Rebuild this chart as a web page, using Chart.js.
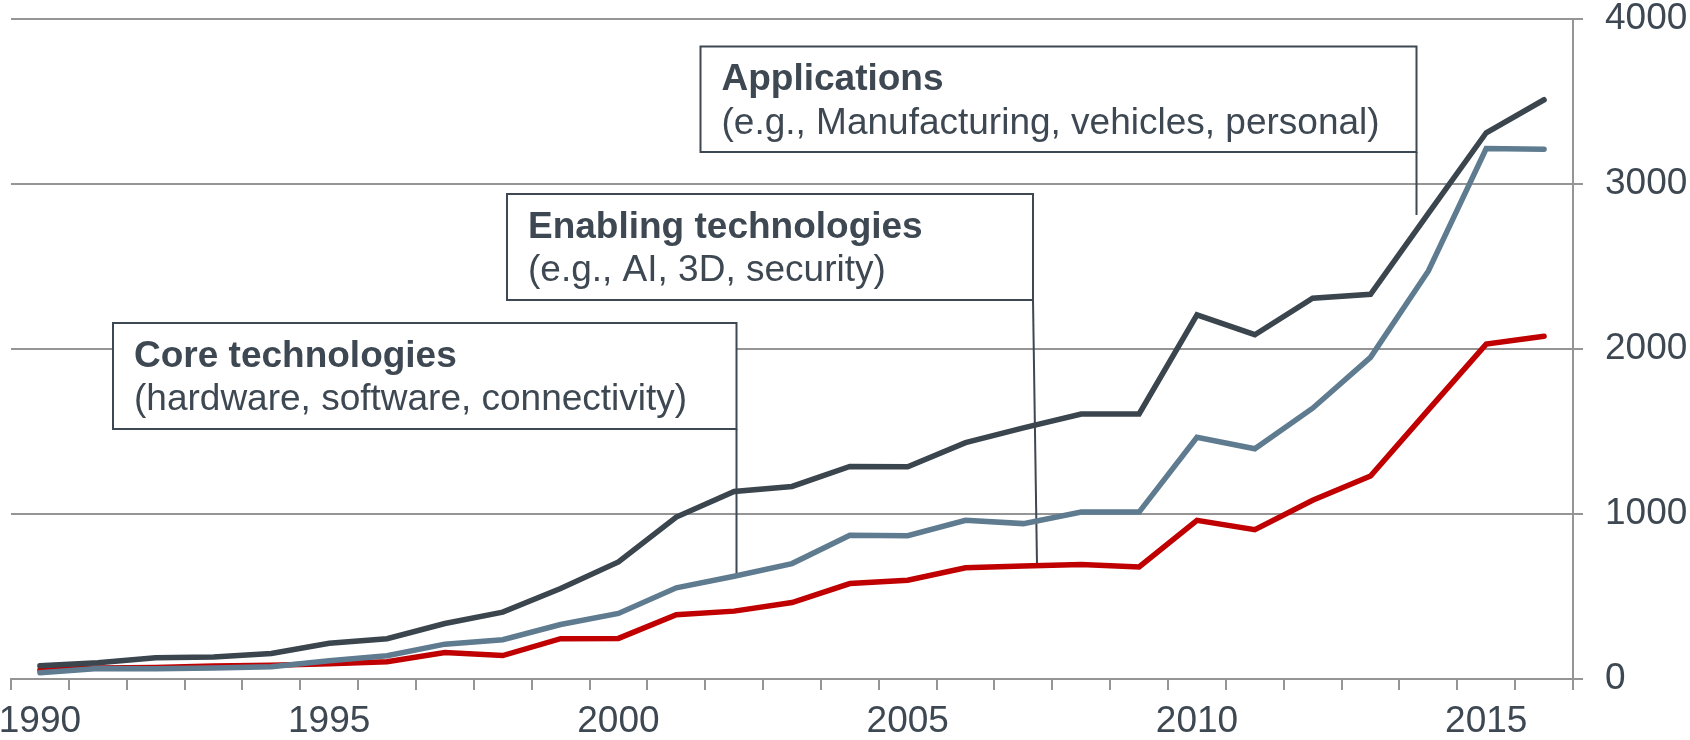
<!DOCTYPE html>
<html>
<head>
<meta charset="utf-8">
<script src="https://cdn.jsdelivr.net/npm/chart.js@4"></script>
<style>
  body { margin: 0; background: #fff; }
  canvas { display: block; }
</style>
</head>
<body>
<canvas id="line-chart" width="1690" height="740"></canvas>
<script>
let years = [];
for (let y = 1990; y <= 2016; y++) {
    years.push(String(y));
}

// dark line
let applications = [80, 98, 129, 133, 155, 216, 244, 336, 405, 548, 709, 981, 1136, 1166,
    1287, 1285, 1431, 1521, 1605, 1605, 2205, 2085, 2306, 2330, 2820, 3308, 3508];
// blue-grey line
let coreTech = [38, 64, 62, 66, 74, 111, 141, 211, 238, 330, 397, 552, 622, 699,
    870, 868, 961, 941, 1011, 1011, 1464, 1394, 1640, 1948, 2471, 3212, 3208];
// red line
let enablingTech = [54, 66, 70, 78, 84, 92, 105, 161, 142, 244, 246, 389, 411, 463,
    578, 598, 674, 685, 693, 679, 961, 904, 1082, 1229, 1630, 2028, 2076];

let yTicks = [0, 1000, 2000, 3000, 4000];

let textColor = "#3e4852";
let gridColor = "#959595";
let fontFamily = '"Liberation Sans", Arial, sans-serif';

let boxes = [
    { title: "Core technologies", sub: "(hardware, software, connectivity)",
      left: 113, top: 323, right: 736.5, bottom: 429, line: [736.5, 429, 736.5, 573] },
    { title: "Enabling technologies", sub: "(e.g., AI, 3D, security)",
      left: 507, top: 194, right: 1033, bottom: 300, line: [1033, 300, 1037, 565] },
    { title: "Applications", sub: "(e.g., Manufacturing, vehicles, personal)",
      left: 700.5, top: 46.5, right: 1416.5, bottom: 152, line: [1416.5, 152, 1416.5, 215] }
];

let calloutPlugin = {
    id: "callouts",
    beforeDatasetsDraw(chart) {
        let ctx = chart.ctx;
        ctx.save();
        ctx.strokeStyle = textColor;
        ctx.lineWidth = 2;
        boxes.forEach(b => {
            ctx.fillStyle = "#fff";
            ctx.fillRect(b.left, b.top, b.right - b.left, b.bottom - b.top);
            ctx.strokeRect(b.left, b.top, b.right - b.left, b.bottom - b.top);
            ctx.beginPath();
            ctx.moveTo(b.line[0], b.line[1]);
            ctx.lineTo(b.line[2], b.line[3]);
            ctx.stroke();
            ctx.fillStyle = textColor;
            ctx.textBaseline = "alphabetic";
            ctx.textAlign = "left";
            ctx.font = "bold 37px " + fontFamily;
            ctx.fillText(b.title, b.left + 21, b.top + 43.5);
            ctx.font = "37px " + fontFamily;
            ctx.fillText(b.sub, b.left + 21, b.top + 87);
        });
        ctx.restore();
    }
};

let chartdata = {
    labels: years,
    datasets: [{
        label: "Applications",
        data: applications,
        borderColor: "#3a454e"
    }, {
        label: "Core technologies",
        data: coreTech,
        borderColor: "#5f7b90"
    }, {
        label: "Enabling technologies",
        data: enablingTech,
        borderColor: "#c00000"
    }]
};

let graphTarget = document.querySelector("#line-chart");

let lineGraph = new Chart(graphTarget, {
    type: "line",
    data: chartdata,
    plugins: [calloutPlugin],
    options: {
        responsive: false,
        animation: false,
        layout: { padding: { left: 11, top: 18.5, right: 0, bottom: 0 } },
        elements: {
            line: { borderWidth: 5.5, tension: 0, borderCapStyle: "round", fill: false },
            point: { radius: 0, hoverRadius: 0 }
        },
        plugins: {
            legend: { display: false },
            tooltip: { enabled: false }
        },
        scales: {
            x: {
                offset: true,
                grid: {
                    offset: true,
                    drawOnChartArea: false,
                    drawTicks: true,
                    tickLength: 11,
                    color: gridColor,
                    lineWidth: 2
                },
                border: { display: true, color: gridColor, width: 2 },
                ticks: {
                    autoSkip: false,
                    maxRotation: 0,
                    padding: 13,
                    color: textColor,
                    font: { family: fontFamily, size: 37, lineHeight: 1 },
                    callback: function (value, index) {
                        let lab = this.getLabelForValue(value);
                        return Number(lab) % 5 === 0 ? lab : "";
                    }
                },
                afterFit: function (scale) {
                    scale.paddingLeft = 0;
                    scale.paddingRight = 0;
                    scale.height = 61;
                }
            },
            y: {
                position: "right",
                min: 0,
                max: 4000,
                grid: {
                    color: gridColor,
                    lineWidth: 2,
                    tickLength: 10
                },
                border: { display: true, color: gridColor, width: 2 },
                ticks: {
                    stepSize: 1000,
                    padding: 22,
                    color: textColor,
                    font: { family: fontFamily, size: 37, lineHeight: 1 },
                    callback: function (value) {
                        return String(value);
                    }
                },
                afterBuildTicks: function (scale) {
                    scale.ticks = yTicks.map(v => ({ value: v }));
                },
                afterFit: function (scale) {
                    scale.width = 117;
                    scale.paddingTop = 0;
                    scale.paddingBottom = 0;
                }
            }
        }
    }
});
</script>
</body>
</html>
